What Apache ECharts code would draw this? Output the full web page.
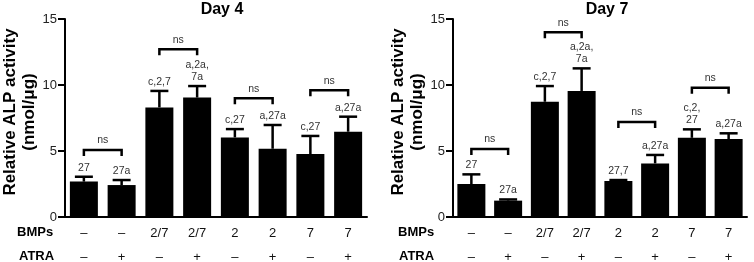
<!DOCTYPE html>
<html>
<head>
<meta charset="utf-8">
<script src="https://cdn.jsdelivr.net/npm/echarts@6/dist/echarts.min.js"></script>
<style>
  html, body { margin: 0; padding: 0; background: #fff; }
  #chart { width: 754px; height: 262px; }
</style>
</head>
<body>
<div id="chart"></div>
<script>
// group labels under each bar
const bmps = ['–', '–', '2/7', '2/7', '2', '2', '7', '7']
const atra = ['–', '+', '–', '+', '–', '+', '–', '+']
const yTicks = [0, 5, 10, 15]

// Day 4: mean and upper error (SD)
const day4Mean = [2.68, 2.42, 8.3, 9.05, 6.03, 5.17, 4.77, 6.46]
const day4Err = [0.37, 0.38, 1.25, 0.87, 0.63, 1.8, 1.37, 1.14]
const day4Marks = ['27', '27a', 'c,2,7', 'a,2a,\n7a', 'c,27', 'a,27a', 'c,27', 'a,27a']
// [from, to, height] for the "ns" brackets
const day4Ns = [[0, 1, 5.07], [2, 3, 12.7], [4, 5, 9.0], [6, 7, 9.6]]

// Day 7
const day7Mean = [2.5, 1.24, 8.73, 9.55, 2.73, 4.06, 6.0, 5.9]
const day7Err = [0.73, 0.09, 1.19, 1.71, 0.07, 0.64, 0.64, 0.44]
const day7Marks = ['27', '27a', 'c,2,7', 'a,2a,\n7a', '27,7', 'a,27a', 'c,2,\n27', 'a,27a']
const day7Ns = [[0, 1, 5.15], [2, 3, 14.0], [4, 5, 7.2], [6, 7, 9.8]]

const FONT = 'Arial, "Liberation Sans", Helvetica, sans-serif'
const idx = bmps.map((_, i) => String(i))

const chart = echarts.init(document.getElementById('chart'))

function makeErrorItem(marks) {
  return function (params, api) {
    const x = api.value(0)
    const mean = api.value(1)
    const top = mean + api.value(2)
    const p0 = api.coord([x, mean])
    const p1 = api.coord([x, top])
    const half = 9
    return {
      type: 'group',
      children: [
        { type: 'line', shape: { x1: p0[0], y1: p0[1], x2: p1[0], y2: p1[1] }, style: { stroke: '#000', lineWidth: 2.5 } },
        { type: 'line', shape: { x1: p1[0] - half, y1: p1[1], x2: p1[0] + half, y2: p1[1] }, style: { stroke: '#000', lineWidth: 2.5 } },
        {
          type: 'text',
          x: p1[0], y: p1[1] - 3,
          style: {
            text: marks[params.dataIndex], fill: '#333', font: '10.5px ' + FONT,
            align: 'center', verticalAlign: 'bottom', lineHeight: 12
          }
        }
      ]
    }
  }
}

function bracketItem(params, api) {
  const a = api.coord([api.value(0), api.value(2)])
  const b = api.coord([api.value(1), api.value(2)])
  const leg = 6
  return {
    type: 'group',
    children: [
      {
        type: 'polyline',
        shape: { points: [[a[0], a[1] + leg], [a[0], a[1]], [b[0], b[1]], [b[0], b[1] + leg]] },
        style: { stroke: '#000', lineWidth: 2.5, fill: null }
      },
      {
        type: 'text',
        x: (a[0] + b[0]) / 2, y: a[1] - 4,
        style: { text: 'ns', fill: '#333', font: '10.5px ' + FONT, align: 'center', verticalAlign: 'bottom' }
      }
    ]
  }
}

function panel(k, mean, err, marks, ns) {
  return [
    { type: 'bar', xAxisIndex: k, yAxisIndex: k, data: mean, barWidth: 28, itemStyle: { color: '#000' }, silent: true },
    {
      type: 'custom', xAxisIndex: k, yAxisIndex: k, renderItem: makeErrorItem(marks), z: 3,
      encode: { x: 0, y: 1 },
      data: mean.map((m, i) => [i, m, err[i]])
    },
    {
      type: 'custom', xAxisIndex: k, yAxisIndex: k, renderItem: bracketItem, z: 3,
      encode: { x: [0, 1], y: 2 },
      data: ns
    }
  ]
}

const grids = [
  { left: 65, right: 387, top: 19, bottom: 45, outerBoundsMode: 'none', containLabel: false },
  { left: 453, right: 7, top: 19, bottom: 45, outerBoundsMode: 'none', containLabel: false }
]

chart.setOption({
  animation: false,
  textStyle: { fontFamily: FONT },
  title: [
    { text: 'Day 4', left: 217, top: -3, textAlign: 'center', textStyle: { fontSize: 16, fontWeight: 'bold', color: '#000' } },
    { text: 'Day 7', left: 602, top: -3, textAlign: 'center', textStyle: { fontSize: 16, fontWeight: 'bold', color: '#000' } }
  ],
  grid: grids,
  xAxis: grids.map((g, k) => ({
    type: 'category',
    gridIndex: k,
    data: idx,
    axisLine: { lineStyle: { color: '#000', width: 2 } },
    axisTick: { show: false },
    axisLabel: {
      formatter: (v, i) => bmps[i] + '\n' + atra[i],
      color: '#111', fontSize: 13, lineHeight: 24, margin: 4
    }
  })),
  yAxis: grids.map((g, k) => ({
    type: 'value',
    gridIndex: k,
    min: 0, max: 15, interval: 5,
    splitLine: { show: false },
    axisLine: { show: true, lineStyle: { color: '#000', width: 2 } },
    axisTick: { show: true, inside: false, length: 7, lineStyle: { color: '#000', width: 2 } },
    axisLabel: { color: '#222', fontSize: 13, margin: 8, formatter: v => yTicks.includes(v) ? String(v) : '' },
    name: 'Relative ALP activity\n(nmol/μg)',
    nameLocation: 'middle',
    nameRotate: 90,
    nameGap: 17,
    nameTextStyle: { fontSize: 17, fontWeight: 'bold', color: '#000', lineHeight: 19, padding: [0, 0, 0, 12] }
  })),
  graphic: [
    { type: 'text', left: 17, top: 226, style: { text: 'BMPs', font: 'bold 13px ' + FONT, fill: '#000' } },
    { type: 'text', left: 19, top: 250, style: { text: 'ATRA', font: 'bold 13px ' + FONT, fill: '#000' } },
    { type: 'text', left: 398, top: 226, style: { text: 'BMPs', font: 'bold 13px ' + FONT, fill: '#000' } },
    { type: 'text', left: 399, top: 250, style: { text: 'ATRA', font: 'bold 13px ' + FONT, fill: '#000' } }
  ],
  series: [
    ...panel(0, day4Mean, day4Err, day4Marks, day4Ns),
    ...panel(1, day7Mean, day7Err, day7Marks, day7Ns)
  ]
})
</script>
</body>
</html>
